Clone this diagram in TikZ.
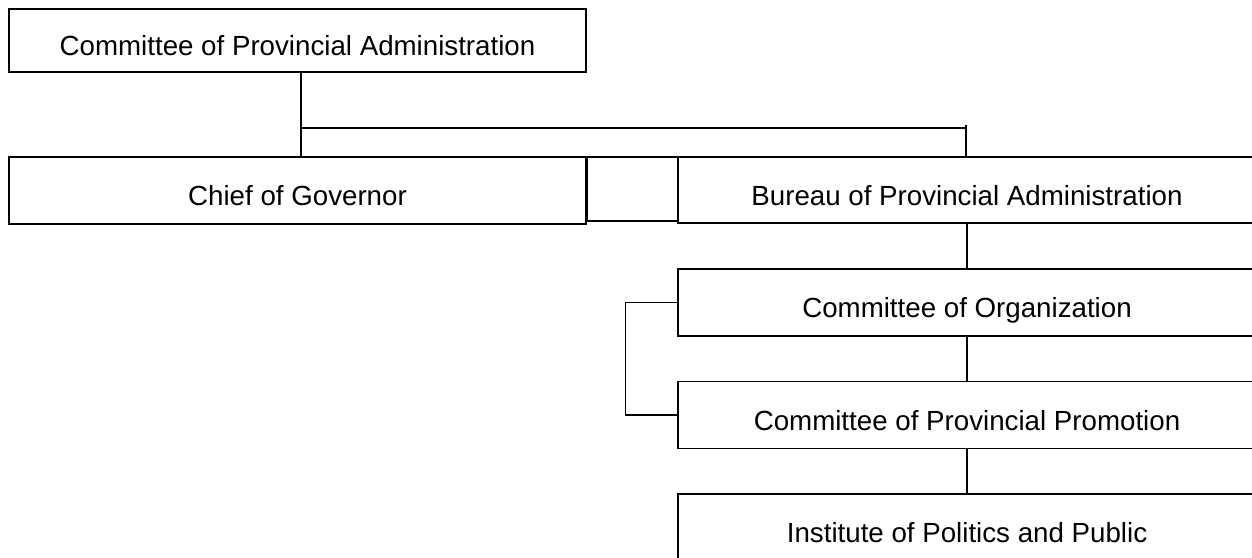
\documentclass[tikz,border=0pt]{standalone}
\usepackage{fontspec}
\setmainfont{Liberation Sans}
\begin{document}
\begin{tikzpicture}[x=1pt,y=-1pt,
  box/.style={draw, line width=1.2pt, inner sep=0pt, minimum height=67pt,
    text height=30pt, text depth=0pt,
    font=\fontsize{27.7}{33}\selectfont},
  wide/.style={box, minimum width=577pt},
  rightbox/.style={box, minimum width=578pt},
  link/.style={line width=1.2pt}]
  % page area
  \clip (0,0) rectangle (1252,557);
  \fill[white] (0,0) rectangle (1252,557);

  % left column
  \node[wide, minimum height=63pt] (cpa) at (297.5,40.5) {Committee of Provincial Administration};
  \node[wide] (chief) at (297.5,190.5) {Chief of Governor};

  % right column (boxes run past the right edge)
  \node[rightbox, minimum height=66pt] (bureau) at (967,190) {Bureau of Provincial Administration};
  \node[rightbox] (org) at (967,302.5) {Committee of Organization};
  \node[rightbox] (promo) at (967,415) {Committee of Provincial Promotion};
  \node[rightbox] (inst) at (967,527.5) {Institute of Politics and Public};

  % small joining box between the two middle boxes
  \node[draw, line width=1.2pt, inner sep=0pt, minimum width=91pt, minimum height=64pt] (joint) at (632.5,189) {};

  % connectors
  \coordinate (tj) at (301,128);
  \coordinate (bj) at (966,125);
  \draw[link] (tj |- cpa.south) -- (tj |- chief.north);
  \draw[link] (tj) -- (tj -| bj);
  \draw[link] (bj) -- (bj |- bureau.north);
  \draw[link] (bureau.south) -- (org.north);
  \draw[link] (org.south) -- (promo.north);
  \draw[link] (promo.south) -- (inst.north);
  \draw[link] (org.west) -- ++(-52,0) |- (promo.west);
\end{tikzpicture}
\end{document}
